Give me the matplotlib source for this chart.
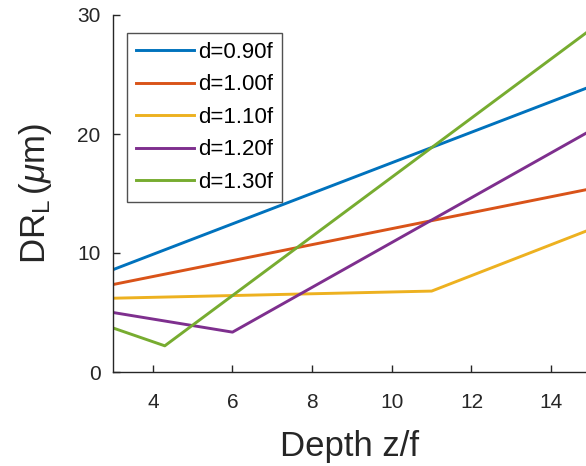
import matplotlib
matplotlib.use("Agg")
import matplotlib.pyplot as plt

# values
labels = ["d=0.90f", "d=1.00f", "d=1.10f", "d=1.20f", "d=1.30f"]
colors = ["#0072BD", "#D95319", "#EDB120", "#7E2F8E", "#77AC30"]

x_090 = [3, 15]
y_090 = [8.6, 24.0]
x_100 = [3, 15]
y_100 = [7.35, 15.4]
x_110 = [3, 11, 15]
y_110 = [6.2, 6.8, 12.0]
x_120 = [3, 6, 15]
y_120 = [5.0, 3.35, 20.3]
x_130 = [3, 4.3, 15]
y_130 = [3.7, 2.2, 28.8]

series = [(x_090, y_090), (x_100, y_100), (x_110, y_110), (x_120, y_120), (x_130, y_130)]

plt.rcParams["font.family"] = ["Liberation Sans", "DejaVu Sans"]
plt.rcParams["mathtext.fontset"] = "custom"
plt.rcParams["mathtext.rm"] = "Liberation Sans"
plt.rcParams["mathtext.it"] = "Liberation Sans:italic"

fig = plt.figure(figsize=(5.86, 4.66), dpi=100)
ax = fig.add_axes([113 / 586, 1 - 372 / 466, 1 - 113 / 586, (372 - 15) / 466])

for (xs, ys), lab, c in zip(series, labels, colors):
    ax.plot(xs, ys, color=c, lw=2.1, label=lab)

ax.set_xlim(3, 14.875)
ax.set_ylim(0, 30)
ax.set_xticks([4, 6, 8, 10, 12, 14])
ax.set_yticks([0, 10, 20, 30])
ax.spines["top"].set_visible(False)
ax.spines["right"].set_visible(False)
for s in ["left", "bottom"]:
    ax.spines[s].set_color("#262626")
    ax.spines[s].set_linewidth(1)
ax.tick_params(direction="in", length=5, width=1, color="#262626",
               labelcolor="#262626", labelsize=15)
ax.tick_params(axis="x", pad=15)
ax.tick_params(axis="y", pad=9)

ax.set_xlabel("Depth z/f", fontsize=25, color="#262626", labelpad=13)
ax.set_ylabel(r"DR$_{\rm L}$$\,$($\mu$m)", fontsize=25, color="#262626", labelpad=17)

leg = ax.legend(loc="upper left", bbox_to_anchor=(0.03, 0.95), fontsize=16,
                frameon=True, fancybox=False, edgecolor="#262626",
                handlelength=2.6, handletextpad=0.2, labelspacing=0.52,
                borderpad=0.4, borderaxespad=0)
leg.get_frame().set_linewidth(1)

fig.savefig("out.png", dpi=100)
